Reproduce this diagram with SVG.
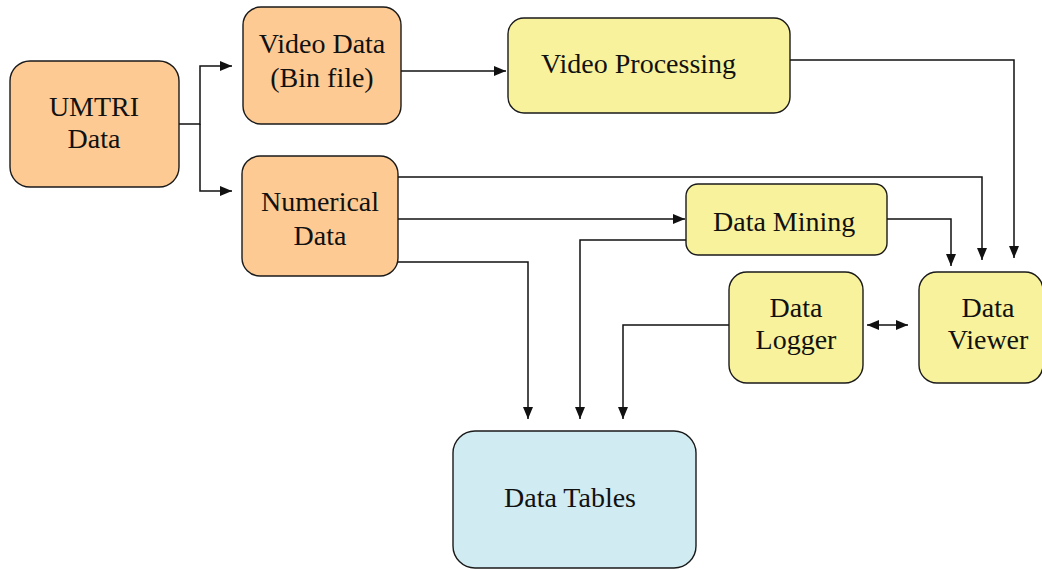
<svg xmlns="http://www.w3.org/2000/svg" width="1042" height="569" viewBox="0 0 1042 569">
<style>
.box{stroke:#1a1a1a;stroke-width:1.4}
.o{fill:#FDCA94}
.y{fill:#F8F29C}
.b{fill:#D0EBF1}
.t text{font-size:28px;fill:#111;text-anchor:middle}
.c path{fill:none;stroke:#111;stroke-width:1.5}
</style>
<defs>
<marker id="ah" markerUnits="userSpaceOnUse" markerWidth="12" markerHeight="10" refX="12" refY="5" orient="auto-start-reverse">
<path d="M0,0 L12,5 L0,10 z" fill="#111"/>
</marker>
</defs>
<rect width="1042" height="569" fill="#fff"/>
<g class="c">
<path d="M179,124 H200 V66 H232" marker-end="url(#ah)"/>
<path d="M200,124 V191 H232" marker-end="url(#ah)"/>
<path d="M401,71 H506" marker-end="url(#ah)"/>
<path d="M790,60 H1014 V258" marker-end="url(#ah)"/>
<path d="M398,177 H982 V260" marker-end="url(#ah)"/>
<path d="M398,219 H685" marker-end="url(#ah)"/>
<path d="M398,262 H528 V419" marker-end="url(#ah)"/>
<path d="M887,219 H951 V266" marker-end="url(#ah)"/>
<path d="M686,240 H580 V419" marker-end="url(#ah)"/>
<path d="M729,325 H623 V419" marker-end="url(#ah)"/>
<path d="M867,325 H908" marker-start="url(#ah)" marker-end="url(#ah)"/>
</g>
<g class="t" font-family="Liberation Serif, Times New Roman, serif">
<g id="umtri">
<rect class="box o" x="10" y="61" width="169" height="126" rx="20"/>
<text x="94" y="116">UMTRI</text>
<text x="94" y="148">Data</text>
</g>
<g id="video-data">
<rect class="box o" x="243" y="7" width="158" height="117" rx="18"/>
<text x="322" y="53">Video Data</text>
<text x="322" y="87">(Bin file)</text>
</g>
<g id="numerical-data">
<rect class="box o" x="242" y="156" width="156" height="120" rx="18"/>
<text x="320" y="211">Numerical</text>
<text x="320" y="245">Data</text>
</g>
<g id="video-processing">
<rect class="box y" x="508" y="18" width="282" height="95" rx="16"/>
<text x="541" y="73" text-anchor="start" style="text-anchor:start">Video Processing</text>
</g>
<g id="data-mining">
<rect class="box y" x="686" y="184" width="201" height="71" rx="12"/>
<text x="713" y="231" style="text-anchor:start">Data Mining</text>
</g>
<g id="data-logger">
<rect class="box y" x="729" y="272" width="134" height="111" rx="18"/>
<text x="796" y="317">Data</text>
<text x="796" y="349">Logger</text>
</g>
<g id="data-viewer">
<rect class="box y" x="919" y="272" width="124" height="111" rx="18"/>
<text x="988" y="317">Data</text>
<text x="988" y="349">Viewer</text>
</g>
<g id="data-tables">
<rect class="box b" x="453" y="431" width="243" height="137" rx="22"/>
<text x="570" y="507">Data Tables</text>
</g>
</g>
</svg>
